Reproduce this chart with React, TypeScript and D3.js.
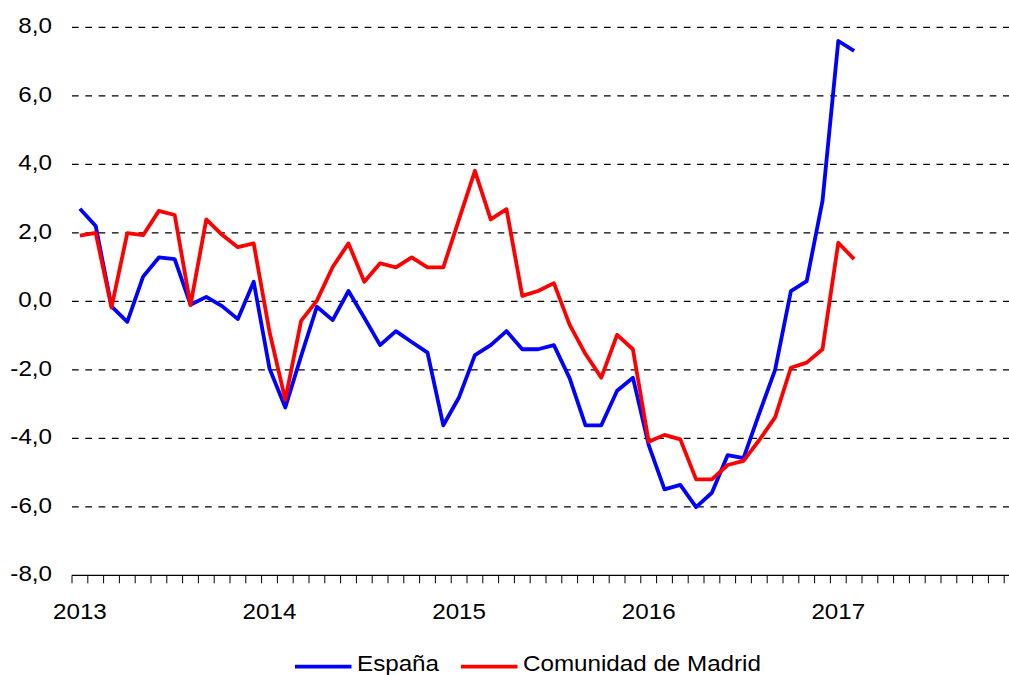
import React from "react";
import * as d3 from "d3";

const years = ["2013", "2014", "2015", "2016", "2017"];
const months = years.flatMap((y) => d3.range(1, 13).map((m) => `${y}-${String(m).padStart(2, "0")}`));

const espana = [
  2.7, 2.2, -0.15, -0.6, 0.72, 1.28, 1.23, -0.1, 0.13, -0.14, -0.52, 0.57,
  -1.96, -3.1, -1.6, -0.16, -0.55, 0.3, -0.48, -1.28, -0.87, -1.19, -1.5, -3.62,
  -2.8, -1.57, -1.28, -0.87, -1.4, -1.4, -1.28, -2.25, -3.62, -3.62, -2.61, -2.23,
  -4.2, -5.49, -5.36, -6.01, -5.59, -4.49, -4.58, -3.27, -2.0, 0.3, 0.59, 2.93,
  7.6, 7.31,
];
const madrid = [
  1.92, 2.0, -0.18, 1.99, 1.93, 2.64, 2.52, -0.11, 2.39, 1.94, 1.58, 1.69,
  -0.89, -2.88, -0.57, 0.02, 1.0, 1.69, 0.57, 1.11, 0.99, 1.28, 0.99, 0.99,
  2.4, 3.81, 2.39, 2.69, 0.16, 0.3, 0.53, -0.69, -1.54, -2.23, -0.98, -1.4,
  -4.1, -3.9, -4.03, -5.2, -5.2, -4.78, -4.66, -4.05, -3.39, -1.94, -1.79, -1.4,
  1.71, 1.23,
];
const yTicks = [-8, -6, -4, -2, 0, 2, 4, 6, 8];
const seriesNames = ["España", "Comunidad de Madrid"];
const seriesColors = ["#0000FF", "#FF0000"];

const W = 1009;
const H = 675;
const FONT = "'Liberation Sans', Arial, sans-serif";

export default function App() {
  const x = d3.scaleBand<string>().domain(months).range([72, 72 + months.length * 15.8]).padding(0);
  const bw = x.bandwidth();
  const y = d3.scaleLinear().domain([-8, 8]).range([575.3, 27.3]);
  const line = d3
    .line<number>()
    .x((_, i) => (x(months[i]) as number) + bw / 2)
    .y((d) => y(d));
  const fmt = (v: number) => v.toFixed(1).replace(".", ",");
  const series = [espana, madrid];
  const legendX = [295, 461];

  return (
    <svg width={W} height={H} style={{ position: "absolute", left: 0, top: 0, background: "#fff" }} fontFamily={FONT}>
      <rect x={0} y={0} width={W} height={H} fill="#fff" />
      {yTicks.filter((t) => t !== -8).map((t) => (
        <line key={t} x1={72} x2={W} y1={y(t)} y2={y(t)} stroke="#000" strokeWidth={1.2} strokeDasharray="6.7,6.6" />
      ))}
      <line x1={72} x2={W} y1={y(-8)} y2={y(-8)} stroke="#000" strokeWidth={1.2} />
      {d3.range(months.length + 1).map((k) => {
        const xx = 72 + k * bw;
        return <line key={k} x1={xx} x2={xx} y1={y(-8)} y2={y(-8) + 8} stroke="#000" strokeWidth={1} />;
      })}
      {yTicks.map((t) => (
        <g key={t} transform={`translate(52,${y(t) + 6}) scale(1.1,1)`}>
          <text textAnchor="end" fontSize={22} fill="#000">{fmt(t)}</text>
        </g>
      ))}
      {years.map((yr) => (
        <g key={yr} transform={`translate(${(x(`${yr}-01`) as number) + bw / 2},619) scale(1.1,1)`}>
          <text textAnchor="middle" fontSize={22} fill="#000">{yr}</text>
        </g>
      ))}
      {series.map((s, i) => (
        <path key={i} d={line(s) || ""} fill="none" stroke={seriesColors[i]} strokeWidth={3.8} strokeLinejoin="round" />
      ))}
      {seriesNames.map((n, i) => (
        <g key={n}>
          <line x1={legendX[i]} x2={legendX[i] + 56.5} y1={666.7} y2={666.7} stroke={seriesColors[i]} strokeWidth={3.8} />
          <g transform={`translate(${legendX[i] + 62},671) scale(1.1,1)`}>
            <text fontSize={22} fill="#000">{n}</text>
          </g>
        </g>
      ))}
    </svg>
  );
}
